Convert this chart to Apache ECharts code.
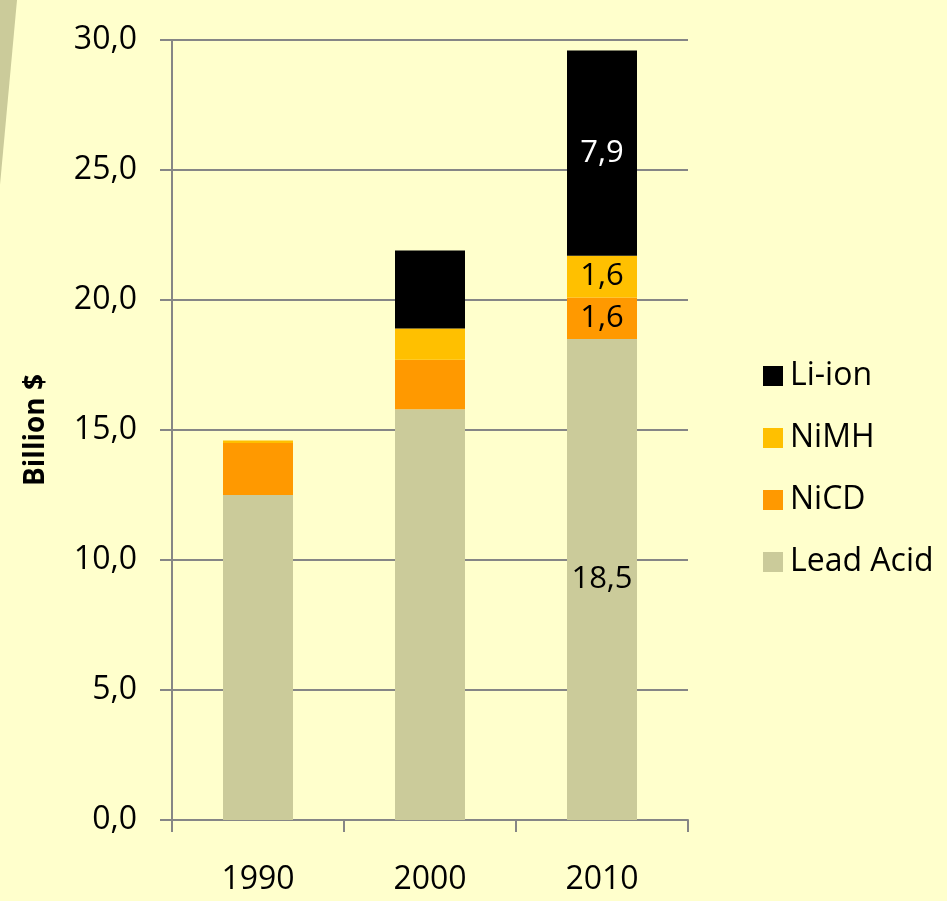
<!DOCTYPE html>
<html>
<head>
  <meta charset="UTF-8">
  <style>
    html, body { margin: 0; padding: 0; background: #FFFFCC; }
  </style>
  <script src="https://cdn.jsdelivr.net/npm/echarts@6/dist/echarts.min.js"></script>
</head>
<body>
  <div id="chart" style="width: 947px; height: 901px;"></div>
  <script>
    const years = ['1990', '2000', '2010']
    const leadAcid = [12.5, 15.8, 18.5]
    const nicd = [2.0, 1.9, 1.6]
    const nimh = [0.1, 1.2, 1.6]
    const liIon = [0, 3.0, 7.9]
    const yTicks = [0, 5, 10, 15, 20, 25, 30]

    const font = "'Open Sans', 'Noto Sans', sans-serif"
    const fmt = v => v.toFixed(1).replace('.', ',')

    // only the 2010 bar carries value labels
    function withLabels (arr, color) {
      return arr.map((v, i) => i === 2
        ? { value: v, label: { show: true, color: color, fontSize: 31, fontFamily: font, formatter: p => fmt(p.value) } }
        : v)
    }

    const myChart = echarts.init(document.getElementById('chart'))

    const options = {
      backgroundColor: '#FFFFCC',
      animation: false,
      graphic: [
        {
          type: 'polygon',
          shape: { points: [[0, 0], [17, 0], [0, 185]] },
          style: { fill: '#CBCB9A' }
        }
      ],
      grid: { left: 172, right: 259, top: 40, bottom: 81 },
      legend: {
        orient: 'vertical',
        left: 758,
        top: 355,
        itemWidth: 20,
        itemHeight: 20,
        itemGap: 30,
        icon: 'rect',
        data: ['Li-ion', 'NiMH', 'NiCD', 'Lead Acid'],
        textStyle: { fontSize: 32, fontFamily: font, color: '#000', padding: [0, 0, 0, 2] }
      },
      xAxis: {
        type: 'category',
        data: years,
        axisLine: { lineStyle: { color: '#868686', width: 2 } },
        axisTick: { show: true, length: 12, lineStyle: { color: '#868686', width: 2 } },
        axisLabel: { fontSize: 32, fontFamily: font, color: '#000', margin: 44 }
      },
      yAxis: {
        type: 'value',
        min: yTicks[0],
        max: yTicks[yTicks.length - 1],
        interval: 5,
        name: 'Billion $',
        nameLocation: 'middle',
        nameGap: 122,
        nameRotate: 90,
        nameTextStyle: { fontSize: 28, fontWeight: 'bold', fontFamily: font, color: '#000' },
        axisLine: { show: true, lineStyle: { color: '#868686', width: 2 } },
        axisTick: { show: true, length: 12, lineStyle: { color: '#868686', width: 2 } },
        splitLine: { lineStyle: { color: '#868686', width: 2 } },
        axisLabel: { fontSize: 32, fontFamily: font, color: '#000', margin: 35, formatter: v => fmt(v) }
      },
      series: [
        { name: 'Lead Acid', type: 'bar', stack: 'total', barWidth: 70, itemStyle: { color: '#CBCB9A' }, data: withLabels(leadAcid, '#000') },
        { name: 'NiCD', type: 'bar', stack: 'total', itemStyle: { color: '#FF9900' }, data: withLabels(nicd, '#000') },
        { name: 'NiMH', type: 'bar', stack: 'total', itemStyle: { color: '#FFC000' }, data: withLabels(nimh, '#000') },
        { name: 'Li-ion', type: 'bar', stack: 'total', itemStyle: { color: '#000000' }, data: withLabels(liIon, '#fff') }
      ]
    }

    myChart.setOption(options)
  </script>
</body>
</html>
